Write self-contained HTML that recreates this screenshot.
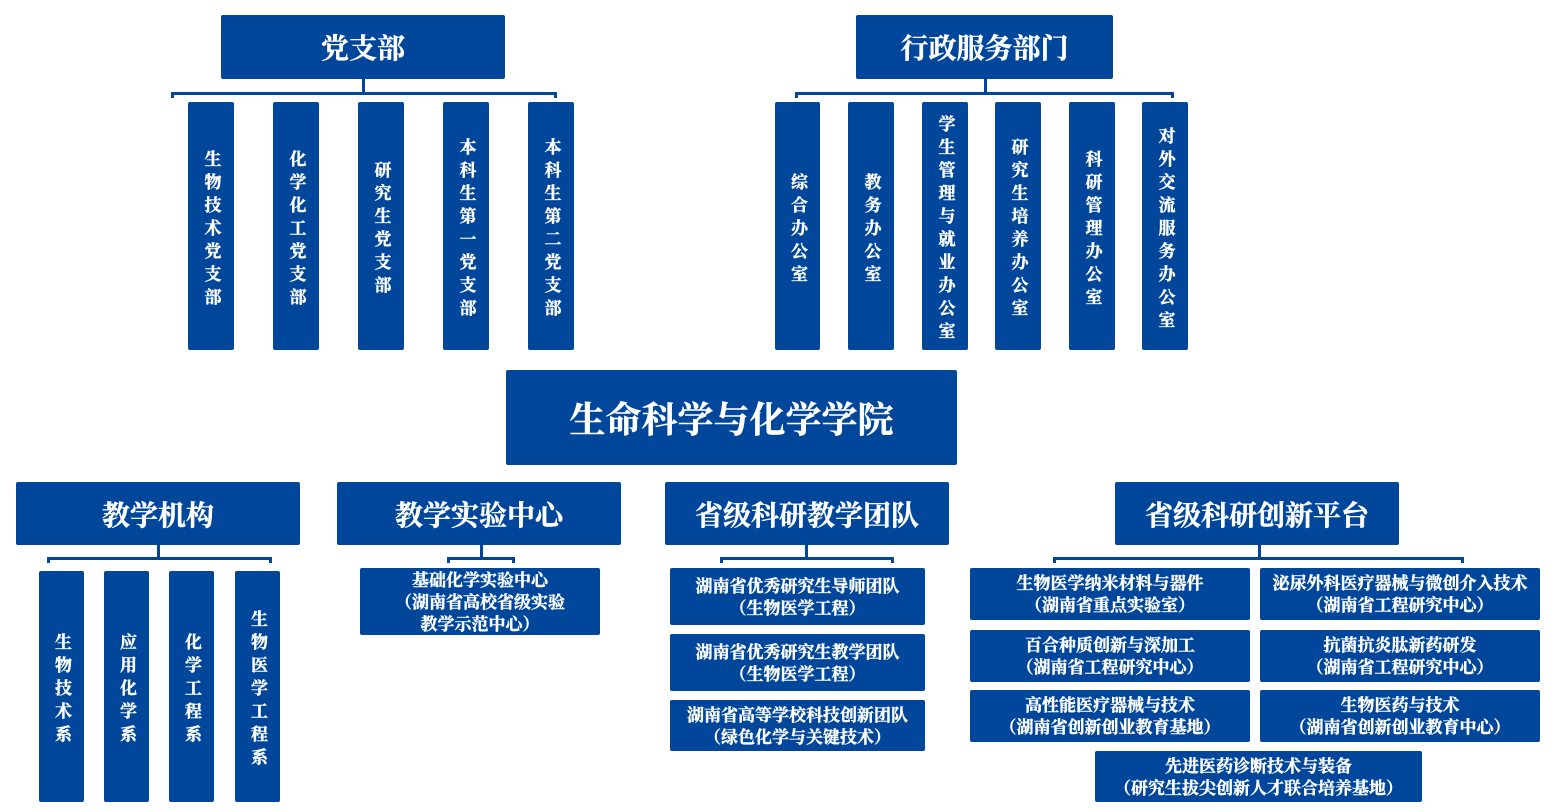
<!DOCTYPE html>
<html><head><meta charset="utf-8"><style>
body{margin:0;width:1556px;height:812px;background:#fff;position:relative;overflow:hidden;font-family:"Liberation Serif","Noto Serif CJK SC",serif;font-weight:bold;color:#fff}
.b{position:absolute;background:#00479b;display:flex;align-items:center;justify-content:center;text-align:center;border-radius:2px;-webkit-text-stroke:0.4px #fff;box-sizing:border-box}
.v{writing-mode:vertical-rl;font-size:17px;letter-spacing:6px;line-height:1;padding-left:0;padding-top:8px}
.h{font-size:28px}
.s{font-size:17px;line-height:22px;padding-top:2px}
.l{position:absolute;background:#00479b}
</style></head><body>
<div class="b h" style="left:221px;top:15px;width:284px;height:64px">党支部</div>
<div class="l" style="left:362px;top:79px;width:3px;height:14px"></div>
<div class="l" style="left:171px;top:92px;width:386px;height:3px"></div>
<div class="l" style="left:171px;top:92px;width:3px;height:6px"></div>
<div class="l" style="left:554px;top:92px;width:3px;height:6px"></div>
<div class="b v" style="left:188px;top:102px;width:46px;height:248px">生物技术党支部</div>
<div class="b v" style="left:273px;top:102px;width:46px;height:248px">化学化工党支部</div>
<div class="b v" style="left:358px;top:102px;width:46px;height:248px">研究生党支部</div>
<div class="b v" style="left:443px;top:102px;width:46px;height:248px">本科生第一党支部</div>
<div class="b v" style="left:528px;top:102px;width:46px;height:248px">本科生第二党支部</div>
<div class="b h" style="left:856px;top:15px;width:257px;height:64px">行政服务部门</div>
<div class="l" style="left:984px;top:79px;width:3px;height:14px"></div>
<div class="l" style="left:795px;top:92px;width:379px;height:3px"></div>
<div class="l" style="left:795px;top:92px;width:3px;height:6px"></div>
<div class="l" style="left:1171px;top:92px;width:3px;height:6px"></div>
<div class="b v" style="left:775px;top:102px;width:45px;height:248px">综合办公室</div>
<div class="b v" style="left:848px;top:102px;width:46px;height:248px">教务办公室</div>
<div class="b v" style="left:922px;top:102px;width:46px;height:248px">学生管理与就业办公室</div>
<div class="b v" style="left:995px;top:102px;width:46px;height:248px">研究生培养办公室</div>
<div class="b v" style="left:1069px;top:102px;width:46px;height:248px">科研管理办公室</div>
<div class="b v" style="left:1142px;top:102px;width:46px;height:248px">对外交流服务办公室</div>
<div class="b" style="left:506px;top:370px;width:451px;height:95px;font-size:36px">生命科学与化学学院</div>
<div class="b h" style="left:16px;top:482px;width:284px;height:63px">教学机构</div>
<div class="b h" style="left:337px;top:482px;width:284px;height:63px">教学实验中心</div>
<div class="b h" style="left:665px;top:482px;width:284px;height:63px">省级科研教学团队</div>
<div class="b h" style="left:1115px;top:482px;width:284px;height:63px">省级科研创新平台</div>
<div class="l" style="left:157px;top:545px;width:3px;height:13px"></div>
<div class="l" style="left:47px;top:557px;width:225px;height:3px"></div>
<div class="l" style="left:47px;top:557px;width:3px;height:6px"></div>
<div class="l" style="left:269px;top:557px;width:3px;height:6px"></div>
<div class="b v" style="left:39px;top:571px;width:45px;height:231px">生物技术系</div>
<div class="b v" style="left:104px;top:571px;width:45px;height:231px">应用化学系</div>
<div class="b v" style="left:169px;top:571px;width:45px;height:231px">化学工程系</div>
<div class="b v" style="left:235px;top:571px;width:45px;height:231px">生物医学工程系</div>
<div class="l" style="left:480px;top:545px;width:3px;height:13px"></div>
<div class="l" style="left:447px;top:557px;width:68px;height:3px"></div>
<div class="l" style="left:447px;top:557px;width:3px;height:6px"></div>
<div class="l" style="left:512px;top:557px;width:3px;height:6px"></div>
<div class="b s" style="left:360px;top:568px;width:240px;height:67px">基础化学实验中心<br>（湖南省高校省级实验<br>教学示范中心）</div>
<div class="l" style="left:805px;top:545px;width:3px;height:13px"></div>
<div class="l" style="left:720px;top:557px;width:174px;height:3px"></div>
<div class="l" style="left:720px;top:557px;width:3px;height:6px"></div>
<div class="l" style="left:891px;top:557px;width:3px;height:6px"></div>
<div class="b s" style="left:670px;top:568px;width:255px;height:57px">湖南省优秀研究生导师团队<br>（生物医学工程）</div>
<div class="b s" style="left:670px;top:634px;width:255px;height:57px">湖南省优秀研究生教学团队<br>（生物医学工程）</div>
<div class="b s" style="left:670px;top:700px;width:255px;height:51px">湖南省高等学校科技创新团队<br>（绿色化学与关键技术）</div>
<div class="l" style="left:1258px;top:545px;width:3px;height:13px"></div>
<div class="l" style="left:1053px;top:557px;width:411px;height:3px"></div>
<div class="l" style="left:1053px;top:557px;width:3px;height:6px"></div>
<div class="l" style="left:1461px;top:557px;width:3px;height:6px"></div>
<div class="b s" style="left:970px;top:568px;width:280px;height:52px">生物医学纳米材料与器件<br>（湖南省重点实验室）</div>
<div class="b s" style="left:1260px;top:568px;width:280px;height:52px">泌尿外科医疗器械与微创介入技术<br>（湖南省工程研究中心）</div>
<div class="b s" style="left:970px;top:630px;width:280px;height:52px">百合种质创新与深加工<br>（湖南省工程研究中心）</div>
<div class="b s" style="left:1260px;top:630px;width:280px;height:52px">抗菌抗炎肽新药研发<br>（湖南省工程研究中心）</div>
<div class="b s" style="left:970px;top:690px;width:280px;height:52px">高性能医疗器械与技术<br>（湖南省创新创业教育基地）</div>
<div class="b s" style="left:1260px;top:690px;width:280px;height:52px">生物医药与技术<br>（湖南省创新创业教育中心）</div>
<div class="b s" style="left:1095px;top:751px;width:327px;height:51px">先进医药诊断技术与装备<br>（研究生拔尖创新人才联合培养基地）</div>
</body></html>
